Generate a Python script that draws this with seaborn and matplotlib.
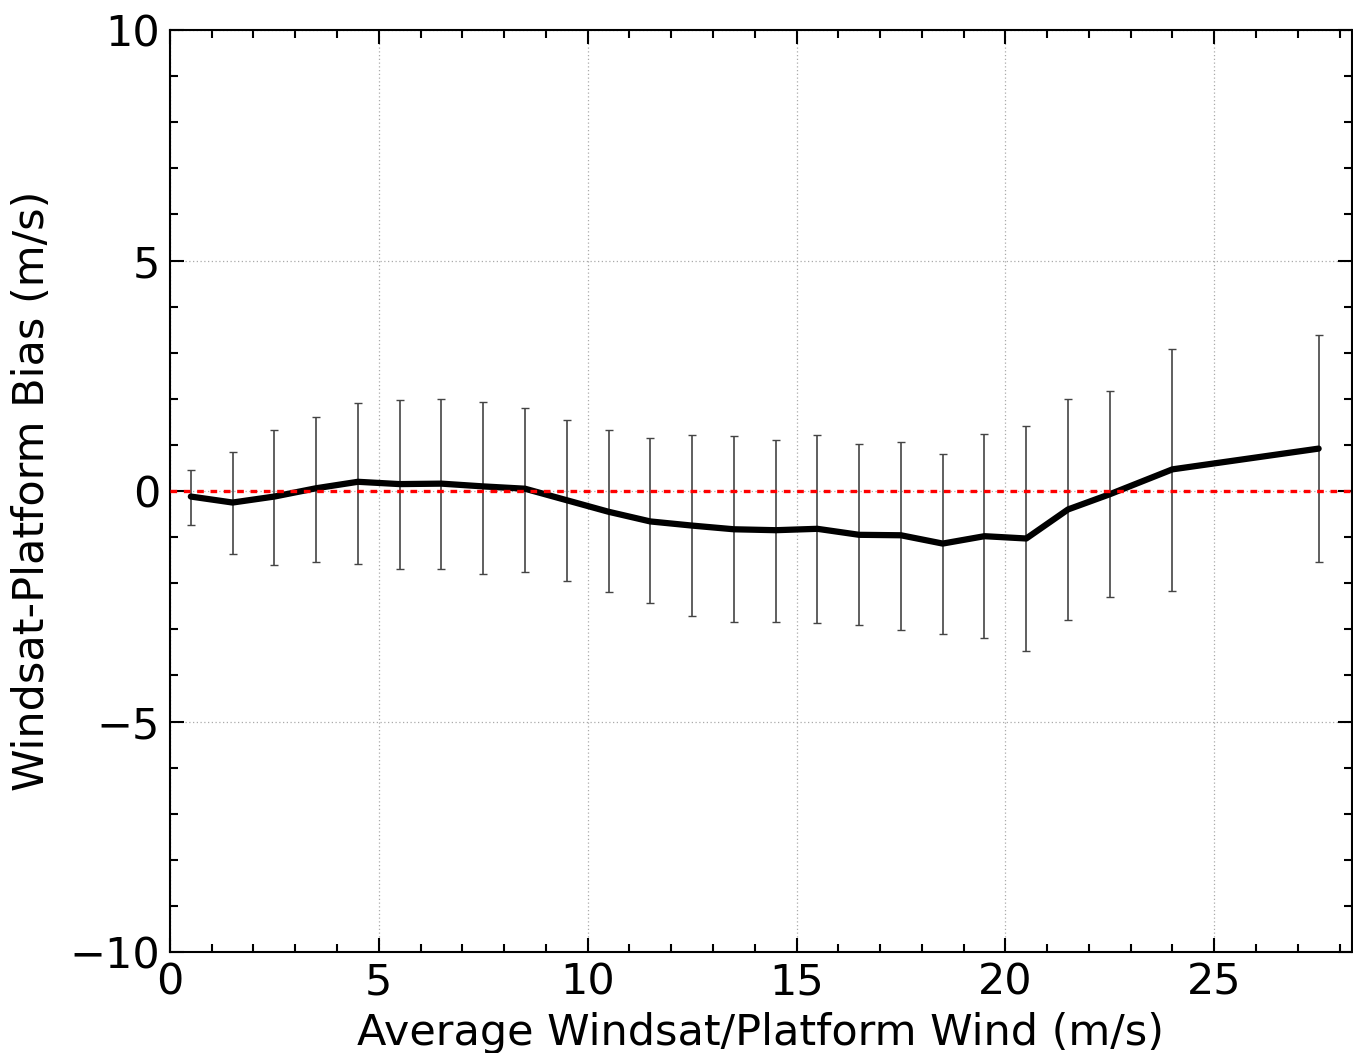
import matplotlib
matplotlib.use("Agg")
import numpy as np
import pandas as pd
import matplotlib.pyplot as plt
from matplotlib.ticker import MultipleLocator
import seaborn as sns

# bin centres (m/s) and mean bias with the bar ends
wind = [0.5, 1.5, 2.5, 3.5, 4.5, 5.5, 6.5, 7.5, 8.5, 9.5, 10.5, 11.5, 12.5,
        13.5, 14.5, 15.5, 16.5, 17.5, 18.5, 19.5, 20.5, 21.5, 22.5, 24.0, 27.5]
bias = [-0.12, -0.25, -0.12, 0.06, 0.20, 0.15, 0.16, 0.10, 0.05, -0.20, -0.45,
        -0.66, -0.75, -0.83, -0.85, -0.82, -0.95, -0.96, -1.14, -0.98, -1.03,
        -0.40, -0.07, 0.47, 0.92]
bar_hi = [0.45, 0.84, 1.33, 1.60, 1.92, 1.97, 2.00, 1.93, 1.80, 1.55, 1.32,
          1.14, 1.22, 1.19, 1.11, 1.21, 1.01, 1.07, 0.80, 1.23, 1.40, 2.00,
          2.17, 3.08, 3.38]
bar_lo = [-0.74, -1.36, -1.61, -1.54, -1.58, -1.70, -1.70, -1.79, -1.76, -1.96,
          -2.20, -2.44, -2.72, -2.85, -2.84, -2.87, -2.91, -3.02, -3.10, -3.18,
          -3.46, -2.80, -2.30, -2.17, -1.55]

df = pd.DataFrame({"wind": wind, "bias": bias, "lo": bar_lo, "hi": bar_hi})

sns.set_theme(style="ticks", rc={"text.color": "black", "axes.labelcolor": "black",
                                 "xtick.color": "black", "ytick.color": "black"})
plt.rcParams["font.family"] = ["DejaVu Sans"]

fig = plt.figure(figsize=(13.53, 10.53), dpi=100)
ax = fig.add_axes([0.1256, 0.0959, 0.8737, 0.8756])

ax.errorbar(df["wind"], df["bias"],
            yerr=[df["bias"] - df["lo"], df["hi"] - df["bias"]],
            fmt="none", ecolor="#444444", elinewidth=1.2, capsize=3,
            capthick=1.0, zorder=2)
sns.lineplot(data=df, x="wind", y="bias", color="black", linewidth=4.5,
             ax=ax, zorder=3)
ax.axhline(0, color="red", linestyle=(0, (2, 2)), linewidth=2.4, zorder=4)

ax.set_xlim(0, 28.3)
ax.set_ylim(-10, 10)
ax.xaxis.set_major_locator(MultipleLocator(5))
ax.xaxis.set_minor_locator(MultipleLocator(1))
ax.yaxis.set_major_locator(MultipleLocator(5))
ax.yaxis.set_minor_locator(MultipleLocator(1))
ax.grid(True, which="major", linestyle=(0, (1, 2)), color="#aaaaaa", linewidth=0.9)
ax.tick_params(which="both", direction="in", top=True, right=True,
               color="black", labelcolor="black", labelsize=31, pad=7)
ax.tick_params(which="major", length=10, width=1.5)
ax.tick_params(which="minor", length=6, width=1.5)
for sp in ax.spines.values():
    sp.set_color("black")
    sp.set_linewidth(1.5)

ax.set_xlabel("Average Windsat/Platform Wind (m/s)", fontsize=31, labelpad=6,
              color="black")
ax.set_ylabel("Windsat-Platform Bias (m/s)", fontsize=31, labelpad=12,
              color="black")

fig.savefig("out.png", dpi=100)
